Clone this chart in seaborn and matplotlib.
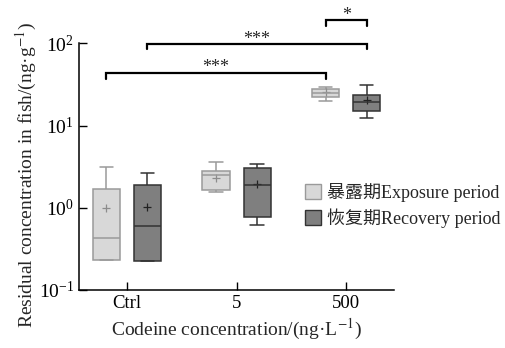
import numpy as np
import pandas as pd
import matplotlib
matplotlib.use("Agg")
import matplotlib.pyplot as plt
from matplotlib.patches import Patch
from matplotlib.ticker import NullLocator, LogLocator, LogFormatterMathtext
import seaborn as sns

# ---- data (five-number summaries) ----
concentrations = ["Ctrl", "5", "500"]
periods = ["暴露期Exposure period", "恢复期Recovery period"]
# [lower whisker, Q1, median, Q3, upper whisker]
exposure_stats = [
    [0.23, 0.23, 0.43, 1.68, 3.1],
    [1.54, 1.63, 2.48, 2.80, 3.64],
    [19.9, 22.5, 25.1, 28.1, 29.7],
]
recovery_stats = [
    [0.226, 0.226, 0.60, 1.89, 2.62],
    [0.61, 0.78, 1.88, 3.08, 3.38],
    [12.5, 15.0, 19.5, 23.5, 31.1],
]
exposure_means = [0.99, 2.33, 25.4]
recovery_means = [1.03, 1.97, 20.2]

# significance brackets: (x1, x2, y_top, y_bottom, label, label_y)
brackets = [
    (-0.1875, 1.8125, 43.1, 36.4, "***", 51),
    (0.1875, 2.1875, 97.0, 84.3, "***", 112),
    (1.8125, 2.1875, 190.0, 160.0, "*", 218),
]

rows = []
for c, s in zip(concentrations, exposure_stats):
    for v in s:
        rows.append((c, periods[0], v))
for c, s in zip(concentrations, recovery_stats):
    for v in s:
        rows.append((c, periods[1], v))
df = pd.DataFrame(rows, columns=["conc", "period", "value"])
means = pd.DataFrame(
    [(c, periods[0], m) for c, m in zip(concentrations, exposure_means)]
    + [(c, periods[1], m) for c, m in zip(concentrations, recovery_means)],
    columns=["conc", "period", "value"],
)

sns.set_style("ticks")
plt.rcParams["font.family"] = ["Liberation Serif", "Noto Sans CJK SC"]
plt.rcParams["mathtext.fontset"] = "stix"

fill = {periods[0]: "#d8d8d8", periods[1]: "#7f7f7f"}
edge = {periods[0]: "#9a9a9a", periods[1]: "#333333"}
mean_col = {periods[0]: "#8c8c8c", periods[1]: "#222222"}

fig = plt.figure(figsize=(5.06, 3.48), dpi=100)
ax = fig.add_axes([0.156, 0.1667, 0.623, 0.709])

for p in periods:
    sub = df[df["period"] == p]
    sns.boxplot(
        data=sub, x="conc", y="value", hue="period",
        order=concentrations, hue_order=periods, dodge=True,
        palette=fill, width=0.75, gap=0.34, whis=(0, 100),
        linecolor=edge[p], linewidth=1.1, fliersize=0,
        log_scale=True, legend=False, ax=ax,
    )

sns.pointplot(
    data=means, x="conc", y="value", hue="period",
    order=concentrations, hue_order=periods,
    palette=mean_col,
    dodge=0.375, markers="+", linestyle="none", errorbar=None,
    markersize=6, markeredgewidth=0.9, legend=False, ax=ax,
)

ax.set_yscale("log")
ax.set_ylim(0.1, 100)
ax.set_xlim(-0.438, 2.438)
ax.yaxis.set_major_locator(LogLocator(base=10))
ax.yaxis.set_major_formatter(LogFormatterMathtext())
ax.yaxis.set_minor_locator(NullLocator())
ax.tick_params(direction="in", length=6, width=1.0, labelsize=13.5, colors="black")
ax.tick_params(axis="y", labelsize=14)
for s in ["left", "bottom"]:
    ax.spines[s].set_linewidth(1.1)
    ax.spines[s].set_color("black")
sns.despine(ax=ax)

ax.set_xlabel("Codeine concentration/(ng·L$^{-1}$)", fontsize=14, labelpad=4)
ax.set_ylabel("Residual concentration in fish/(ng·g$^{-1}$)", fontsize=14)
ax.yaxis.set_label_coords(-0.128, 0.466)

for x1, x2, yt, yb, lab, ly in brackets:
    ax.plot([x1, x1, x2, x2], [yb, yt, yt, yb], color="black", lw=1.6,
            clip_on=False, solid_joinstyle="miter")
    ax.text((x1 + x2) / 2, ly, lab, ha="center", va="center", fontsize=13,
            clip_on=False)

handles = [Patch(facecolor=fill[p], edgecolor=edge[p], linewidth=1.0) for p in periods]
fig.legend(handles, periods, loc="center left", bbox_to_anchor=(0.588, 0.41),
           frameon=False, fontsize=13, handlelength=0.9, handleheight=0.9,
           handletextpad=0.35, labelspacing=0.35, borderaxespad=0)

fig.savefig("out.png", dpi=100)
